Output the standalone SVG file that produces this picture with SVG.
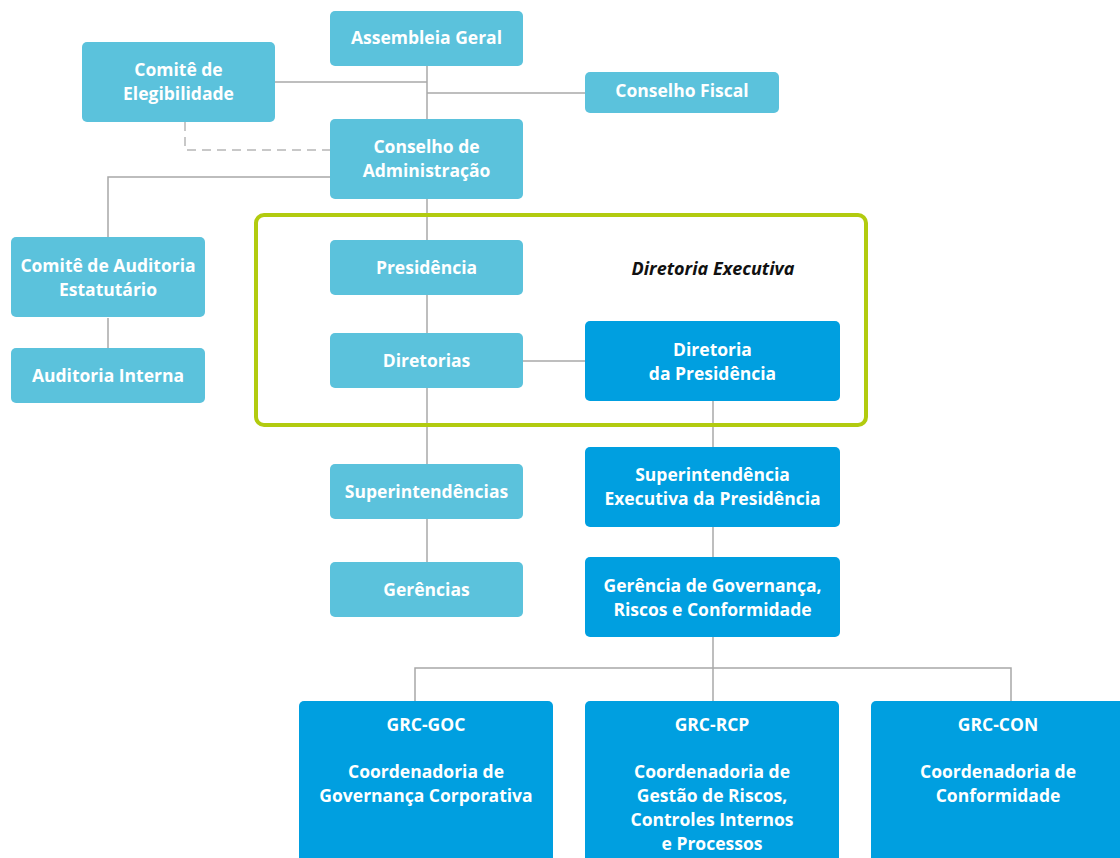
<svg xmlns="http://www.w3.org/2000/svg" width="1120" height="858" viewBox="0 0 1120 858">
<style>
.l{fill:#5bc2dc}
.d{fill:#009fe0}
.n rect{stroke:none}
text{font-family:"Open Sans","Liberation Sans",sans-serif;font-weight:700;font-size:17.5px;fill:#ffffff;text-anchor:middle}
.c{fill:none;stroke:#a8a8a8;stroke-width:1.5}
.dash{stroke:#c8c8c8;stroke-width:2;stroke-dasharray:9 6}
</style>
<rect width="1120" height="858" fill="#ffffff"/>
<g id="connectors">
<path class="c" d="M427 66V562"/>
<path class="c" d="M275 82H427"/>
<path class="c" d="M427 93H585"/>
<path class="c dash" d="M185 122V150H330"/>
<path class="c" d="M330 177H108V238"/>
<path class="c" d="M108 318V348"/>
<path class="c" d="M523 361H585"/>
<path class="c" d="M713 401V557"/>
<path class="c" d="M713 637V701"/>
<path class="c" d="M415 701V668H1011V701"/>
</g>
<g id="frame">
<rect x="256" y="215" width="610" height="210" rx="8" fill="none" stroke="#b2cb0f" stroke-width="4"/>
<text x="713" y="275" style="font-style:italic;fill:#111111;font-size:18px">Diretoria Executiva</text>
</g>
<g id="assembleia" class="n"><rect class="l" x="330" y="11" width="193" height="55" rx="5"/><text x="426.5" y="44">Assembleia Geral</text></g>
<g id="elegibilidade" class="n"><rect class="l" x="82" y="42" width="193" height="80" rx="5"/><text x="178.5" y="76">Comitê de</text><text x="178.5" y="100">Elegibilidade</text></g>
<g id="fiscal" class="n"><rect class="l" x="585" y="72" width="194" height="41" rx="5"/><text x="682" y="97">Conselho Fiscal</text></g>
<g id="conselho-adm" class="n"><rect class="l" x="330" y="119" width="193" height="80" rx="5"/><text x="426.5" y="153">Conselho de</text><text x="426.5" y="177">Administração</text></g>
<g id="auditoria-comite" class="n"><rect class="l" x="11" y="237" width="194" height="80" rx="5"/><text x="108" y="272">Comitê de Auditoria</text><text x="108" y="296">Estatutário</text></g>
<g id="auditoria-interna" class="n"><rect class="l" x="11" y="348" width="194" height="55" rx="5"/><text x="108" y="382">Auditoria Interna</text></g>
<g id="presidencia" class="n"><rect class="l" x="330" y="240" width="193" height="55" rx="5"/><text x="426.5" y="274">Presidência</text></g>
<g id="diretorias" class="n"><rect class="l" x="330" y="333" width="193" height="55" rx="5"/><text x="426.5" y="367">Diretorias</text></g>
<g id="diretoria-presidencia" class="n"><rect class="d" x="585" y="321" width="255" height="80" rx="5"/><text x="712.5" y="356">Diretoria</text><text x="712.5" y="380">da Presidência</text></g>
<g id="superintendencias" class="n"><rect class="l" x="330" y="464" width="193" height="55" rx="5"/><text x="426.5" y="498">Superintendências</text></g>
<g id="superintendencia-exec" class="n"><rect class="d" x="585" y="447" width="255" height="80" rx="5"/><text x="712.5" y="481">Superintendência</text><text x="712.5" y="505">Executiva da Presidência</text></g>
<g id="gerencias" class="n"><rect class="l" x="330" y="562" width="193" height="55" rx="5"/><text x="426.5" y="596">Gerências</text></g>
<g id="gerencia-grc" class="n"><rect class="d" x="585" y="557" width="255" height="80" rx="5"/><text x="712.5" y="592">Gerência de Governança,</text><text x="712.5" y="616">Riscos e Conformidade</text></g>
<g id="grc-goc" class="n"><rect class="d" x="299" y="701" width="254" height="170" rx="5"/><text x="426" y="731">GRC-GOC</text><text x="426" y="778">Coordenadoria de</text><text x="426" y="802">Governança Corporativa</text></g>
<g id="grc-rcp" class="n"><rect class="d" x="585" y="701" width="254" height="170" rx="5"/><text x="712" y="731">GRC-RCP</text><text x="712" y="778">Coordenadoria de</text><text x="712" y="802">Gestão de Riscos,</text><text x="712" y="826">Controles Internos</text><text x="712" y="850">e Processos</text></g>
<g id="grc-con" class="n"><rect class="d" x="871" y="701" width="254" height="170" rx="5"/><text x="998" y="731">GRC-CON</text><text x="998" y="778">Coordenadoria de</text><text x="998" y="802">Conformidade</text></g>
</svg>
